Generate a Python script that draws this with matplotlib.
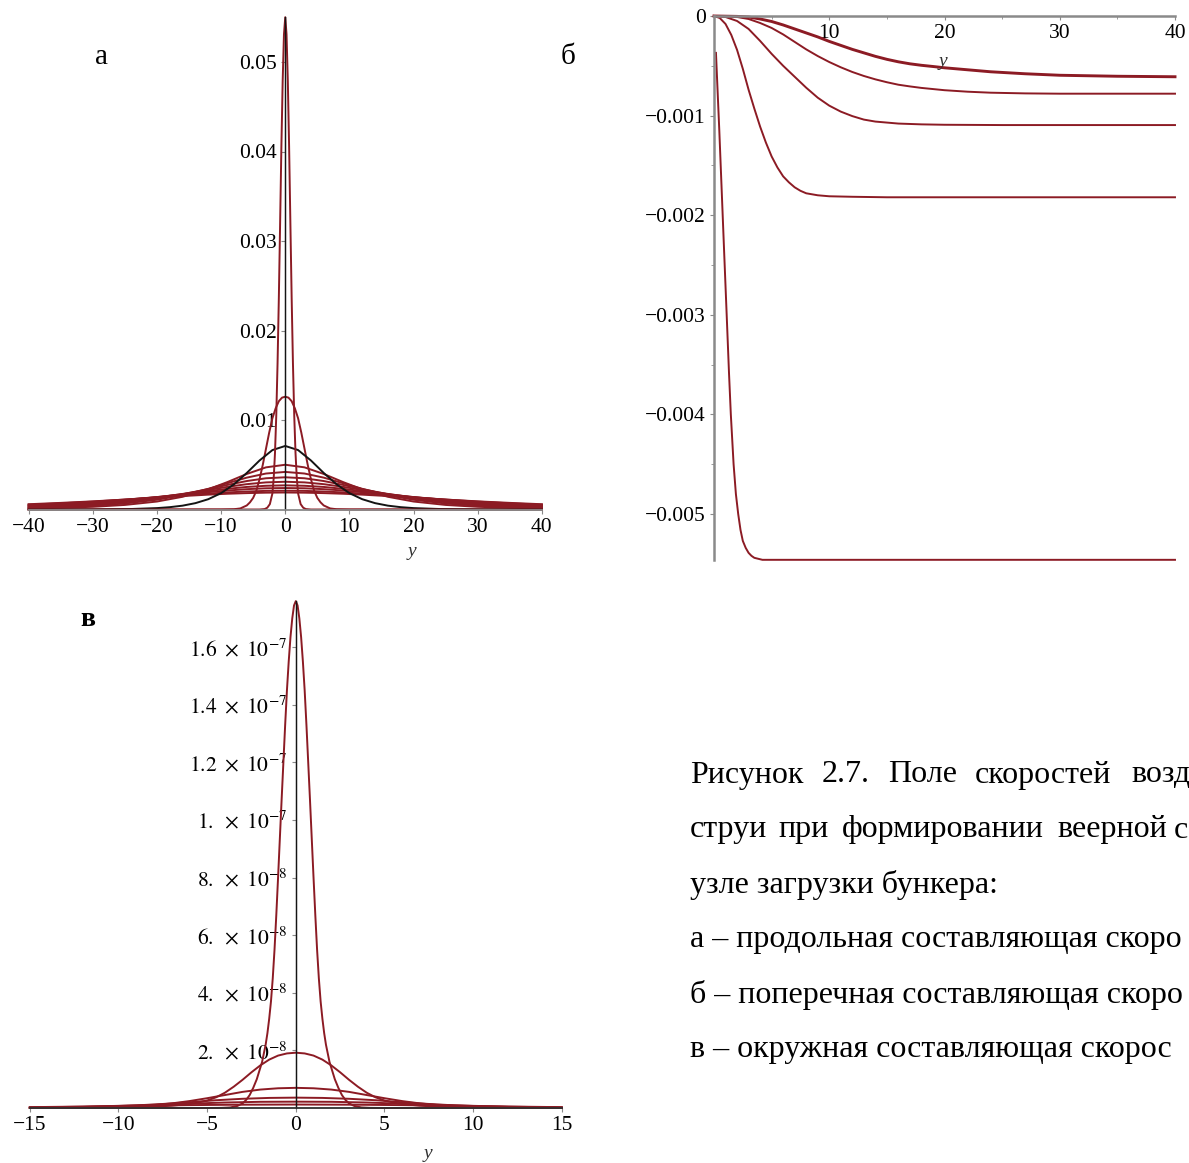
import numpy as np
import matplotlib.pyplot as plt

plt.rcParams['font.family'] = ['Liberation Serif', 'DejaVu Serif']
plt.rcParams['mathtext.fontset'] = 'stix'

RED = '#8c1b24'
BLACK = '#141414'
GRAY = '#8a8a8a'

# ---- panel а: longitudinal velocity, half profiles (mirrored about y = 0)
A_Y_BROAD = [0, 3, 6, 9, 12, 16, 20, 25, 30, 35, 40]
A_BROAD_1 = [0.00500, 0.00471, 0.00397, 0.00307, 0.00225, 0.00142, 0.00089, 0.00051, 0.00030, 0.00019, 0.00012]
A_BROAD_2 = [0.00420, 0.00402, 0.00356, 0.00294, 0.00231, 0.00160, 0.00109, 0.00067, 0.00042, 0.00027, 0.00018]
A_BROAD_3 = [0.00360, 0.00349, 0.00318, 0.00275, 0.00228, 0.00170, 0.00123, 0.00081, 0.00053, 0.00036, 0.00024]
A_BROAD_4 = [0.00310, 0.00303, 0.00283, 0.00253, 0.00219, 0.00174, 0.00133, 0.00093, 0.00065, 0.00046, 0.00032]
A_BROAD_5 = [0.00270, 0.00265, 0.00252, 0.00231, 0.00206, 0.00171, 0.00138, 0.00103, 0.00075, 0.00055, 0.00040]
A_BROAD_6 = [0.00240, 0.00237, 0.00227, 0.00212, 0.00194, 0.00166, 0.00139, 0.00108, 0.00082, 0.00062, 0.00047]
A_BROAD_7 = [0.00210, 0.00208, 0.00201, 0.00191, 0.00178, 0.00158, 0.00136, 0.00111, 0.00088, 0.00069, 0.00054]
A_BROAD_8 = [0.00190, 0.00188, 0.00183, 0.00176, 0.00166, 0.00150, 0.00132, 0.00111, 0.00091, 0.00074, 0.00059]

A_Y_BLACK = [0, 2, 4, 6, 8, 10, 12, 14, 16, 18, 20, 24, 30, 40]
A_BLACK = [0.00710, 0.00664, 0.00548, 0.00408, 0.00281, 0.00183, 0.00115, 0.00071, 0.00043,
           0.00026, 0.000156, 0.000056, 0.000012, 0.0]

A_Y_MID = [0, 0.5, 1, 1.5, 2, 2.5, 3, 3.5, 4, 4.5, 5, 5.5, 6, 7, 8, 10, 40]
A_MID = [0.0126, 0.0125, 0.0121, 0.0113, 0.0102, 0.0086, 0.0068, 0.0050, 0.0034, 0.0021,
         0.0013, 0.0008, 0.00045, 0.00012, 0.00003, 0.0, 0.0]

A_Y_PEAK = [0, 0.2, 0.4, 0.6, 0.8, 1.0, 1.2, 1.4, 1.6, 1.8, 2.0, 2.4, 2.8, 3.2, 4, 40]
A_PEAK = [0.0550, 0.0531, 0.0479, 0.0406, 0.0320, 0.0236, 0.0163, 0.0105, 0.0063, 0.0035,
          0.0018, 0.0006, 0.0002, 0.00005, 0.0, 0.0]

# ---- panel б: transverse velocity (units of 1e-3)
B_Y_1 = [0.17, 0.3, 0.46, 0.65, 0.87, 1.1, 1.3, 1.46, 1.7, 1.9, 2.1, 2.3, 2.5, 2.75, 3.0, 3.25,
         3.5, 4.2, 5.0, 40]
B_V_1 = [-0.37, -0.72, -1.15, -1.70, -2.34, -3.0, -3.58, -4.0, -4.5, -4.8, -5.0, -5.16, -5.27,
         -5.34, -5.39, -5.42, -5.44, -5.46, -5.46, -5.46]
B_Y_2 = [0, 0.5, 1, 1.5, 2, 2.5, 3, 3.5, 4, 4.5, 5, 5.5, 6, 6.5, 7, 7.5, 8, 9, 10, 12, 15, 40]
B_V_2 = [0, -0.02, -0.08, -0.19, -0.34, -0.53, -0.74, -0.93, -1.11, -1.27, -1.41, -1.52, -1.61,
         -1.67, -1.72, -1.755, -1.78, -1.80, -1.81, -1.815, -1.82, -1.82]
B_Y_3 = [0, 1, 2, 3, 4, 5, 6, 7, 8, 9, 10, 11, 12, 13, 14, 16, 18, 20, 25, 40]
B_V_3 = [0, -0.01, -0.05, -0.13, -0.25, -0.38, -0.50, -0.61, -0.72, -0.82, -0.90, -0.96, -1.005,
         -1.04, -1.06, -1.08, -1.088, -1.092, -1.095, -1.095]
B_Y_4 = [0, 2, 3, 4, 5, 6, 7, 8, 9, 10, 11, 12, 13, 14, 15, 16, 17, 18, 20, 22, 24, 27, 30, 40]
B_V_4 = [0, -0.01, -0.03, -0.07, -0.12, -0.185, -0.26, -0.335, -0.402, -0.462, -0.515, -0.562,
         -0.602, -0.636, -0.665, -0.69, -0.707, -0.722, -0.745, -0.76, -0.77, -0.777, -0.78, -0.78]
B_Y_5 = [0, 2, 3, 4, 5, 6, 7, 8, 9, 10, 11, 12, 13, 14, 15, 16, 17, 18, 19, 20, 22, 24, 27, 30, 35, 40]
B_V_5 = [0, -0.004, -0.01, -0.03, -0.055, -0.09, -0.13, -0.17, -0.21, -0.255, -0.295, -0.335,
         -0.37, -0.405, -0.435, -0.46, -0.48, -0.495, -0.507, -0.52, -0.54, -0.56, -0.58, -0.595,
         -0.605, -0.61]

# ---- panel в: circumferential velocity, half profiles (units of 1e-8)
V_Y_1 = [0, 0.1, 0.2, 0.3, 0.4, 0.5, 0.6, 0.7, 0.8, 0.9, 1.0, 1.1, 1.2, 1.3, 1.4, 1.5, 1.6, 1.7,
         1.8, 1.9, 2.0, 2.2, 2.4, 2.6, 2.8, 3.0, 3.3, 3.7, 4.2, 5, 15]
V_1 = [17.6, 17.45, 17.0, 16.35, 15.5, 14.5, 13.3, 12.0, 10.7, 9.35, 8.0, 6.7, 5.5, 4.5, 3.7, 3.1,
       2.6, 2.2, 1.9, 1.6, 1.4, 1.0, 0.7, 0.45, 0.28, 0.16, 0.07, 0.02, 0.005, 0.0, 0.0]
V_Y_2 = [0, 0.5, 1, 1.5, 2, 2.5, 3, 3.5, 4, 4.5, 5, 5.5, 6, 7, 8, 10, 12, 15]
V_2 = [1.92, 1.895, 1.82, 1.68, 1.48, 1.24, 0.98, 0.74, 0.53, 0.37, 0.26, 0.19, 0.14, 0.08,
       0.045, 0.012, 0.004, 0.0]
V_Y_3 = [0, 1, 2, 3, 4, 5, 6, 7, 8, 9, 10, 12, 15]
V_3 = [0.70, 0.685, 0.64, 0.56, 0.45, 0.34, 0.24, 0.16, 0.10, 0.065, 0.04, 0.015, 0.004]
V_Y_4 = [0, 1.5, 3, 4.5, 6, 7.5, 9, 10.5, 12, 15]
V_4 = [0.36, 0.35, 0.32, 0.27, 0.20, 0.14, 0.09, 0.06, 0.035, 0.012]
V_Y_5 = [0, 2, 4, 6, 8, 10, 12, 15]
V_5 = [0.22, 0.215, 0.19, 0.15, 0.11, 0.075, 0.045, 0.02]
V_Y_6 = [0, 3, 6, 9, 12, 15]
V_6 = [0.12, 0.115, 0.10, 0.075, 0.05, 0.03]

V_TICKS = [2e-8, 4e-8, 6e-8, 8e-8, 1e-7, 1.2e-7, 1.4e-7, 1.6e-7]
V_TICK_LABELS = [r'$2.\ \times\ 10^{-8}$', r'$4.\ \times\ 10^{-8}$', r'$6.\ \times\ 10^{-8}$',
                 r'$8.\ \times\ 10^{-8}$', r'$1.\ \times\ 10^{-7}$', r'$1.2\ \times\ 10^{-7}$',
                 r'$1.4\ \times\ 10^{-7}$', r'$1.6\ \times\ 10^{-7}$']

# caption as it shows in the cropped picture
CAPTION_1 = [('Рисунок', 690), ('2.7.', 822), ('Поле', 888), ('скоростей', 975), ('возд', 1131)]
CAPTION_2 = [('струи', 690), ('при', 778), ('формировании', 842), ('веерной', 1057), ('с', 1174)]
CAPTION_REST = ['узле загрузки бункера:',
                'а – продольная составляющая скоро',
                'б – поперечная составляющая скоро',
                'в – окружная составляющая скорос']


def mirror(ys, vs, scale=1.0):
    ys = np.asarray(ys, dtype=float)
    vs = np.asarray(vs, dtype=float) * scale
    return np.r_[-ys[:0:-1], ys], np.r_[vs[:0:-1], vs]


def style_ticks(ax):
    ax.tick_params(labelsize=15.5, length=3, width=0.8, color=GRAY, pad=3)
    ax.set_facecolor('none')
    for s in ['top', 'right']:
        ax.spines[s].set_visible(False)


W, H = 1189, 1163
fig = plt.figure(figsize=(W / 100, H / 100), dpi=100)

# ---------- а
ax = fig.add_axes([28.6 / W, 1 - 509.5 / H, 513.3 / W, 492.5 / H])
ax.set_xlim(-40, 40)
ax.set_ylim(0, 492.5 / 8950)
style_ticks(ax)
ax.spines['left'].set_position(('data', 0))
ax.spines['left'].set_color(BLACK)
ax.spines['left'].set_linewidth(0.9)
ax.spines['bottom'].set_color(GRAY)
ax.spines['bottom'].set_linewidth(1.3)
ax.set_xticks(range(-40, 41, 10))
ax.set_yticks([0.01, 0.02, 0.03, 0.04, 0.05], labels=['0.01', '0.02', '0.03', '0.04', '0.05'])
for vals in [A_BROAD_1, A_BROAD_2, A_BROAD_3, A_BROAD_4, A_BROAD_5, A_BROAD_6, A_BROAD_7, A_BROAD_8]:
    xs, ys = mirror(A_Y_BROAD, vals)
    ax.plot(xs, ys, color=RED, lw=1.4, clip_on=False)
xs, ys = mirror(A_Y_MID, A_MID)
ax.plot(xs, ys, color=RED, lw=1.4, clip_on=False)
xs, ys = mirror(A_Y_BLACK, A_BLACK)
ax.plot(xs, ys, color=BLACK, lw=1.4, clip_on=False)
xs, ys = mirror(A_Y_PEAK, A_PEAK)
ax.plot(xs, ys, color=RED, lw=1.4, clip_on=False)
ax.axvline(0, color=BLACK, lw=0.9)

# ---------- б
ax = fig.add_axes([714 / W, 1 - 560 / H, 461 / W, 544 / H])
ax.set_xlim(0, 40)
ax.set_ylim(-544 / 99600, 0)
style_ticks(ax)
ax.spines['bottom'].set_position(('data', 0))
for s in ['bottom', 'left']:
    ax.spines[s].set_color(GRAY)
    ax.spines[s].set_linewidth(1.8)
ax.set_xticks([10, 20, 30, 40])
ax.set_xticks([5, 15, 25, 35], minor=True)
ax.set_yticks([0, -0.001, -0.002, -0.003, -0.004, -0.005],
              labels=['0', '−0.001', '−0.002', '−0.003', '−0.004', '−0.005'])
ax.set_yticks([-0.0005, -0.0015, -0.0025, -0.0035, -0.0045], minor=True)
ax.tick_params(which='minor', length=2, color=GRAY)
for yy, vv, lw in [(B_Y_1, B_V_1, 1.4), (B_Y_2, B_V_2, 1.4), (B_Y_3, B_V_3, 1.4),
                   (B_Y_4, B_V_4, 1.4), (B_Y_5, B_V_5, 2.1)]:
    ax.plot(yy, np.array(vv) * 1e-3, color=RED, lw=lw, clip_on=False)

# ---------- в
ax = fig.add_axes([29.8 / W, 1 - 1108 / H, 532 / W, 507 / H])
ax.set_xlim(-15, 15)
ax.set_ylim(0, 507 / 57.6 * 2e-8)
style_ticks(ax)
ax.spines['left'].set_position(('data', 0))
ax.spines['left'].set_color(BLACK)
ax.spines['left'].set_linewidth(0.9)
ax.spines['bottom'].set_color('#303030')
ax.spines['bottom'].set_linewidth(1.3)
ax.set_xticks(range(-15, 16, 5))
ax.set_yticks(V_TICKS, labels=V_TICK_LABELS)
for yy, vv in [(V_Y_6, V_6), (V_Y_5, V_5), (V_Y_4, V_4), (V_Y_3, V_3), (V_Y_2, V_2), (V_Y_1, V_1)]:
    xs, ys = mirror(yy, vv, 1e-8)
    ax.plot(xs, ys, color=RED, lw=1.4, clip_on=False)
ax.axvline(0, color=BLACK, lw=0.9)

# axis names and panel letters
for x, y in [(412, 552), (943, 62), (428, 1153)]:
    fig.text(x / W, 1 - y / H, 'y', style='italic', fontsize=14, ha='center', va='center', color='#333333')
fig.text(101 / W, 1 - 57 / H, 'а', fontsize=21, ha='center', va='center')
fig.text(568 / W, 1 - 57 / H, 'б', fontsize=21, ha='center', va='center')
fig.text(88 / W, 1 - 619 / H, 'в', fontsize=20, fontweight='bold', ha='center', va='center')

# caption
for word, x in CAPTION_1:
    fig.text(x / W, 1 - 775 / H, word, fontsize=23, va='center')
for word, x in CAPTION_2:
    fig.text(x / W, 1 - 830 / H, word, fontsize=23, va='center')
for i, line in enumerate(CAPTION_REST):
    fig.text(690 / W, 1 - (885 + 55 * i) / H, line, fontsize=23, va='center')

fig.savefig('out.png', dpi=100)
